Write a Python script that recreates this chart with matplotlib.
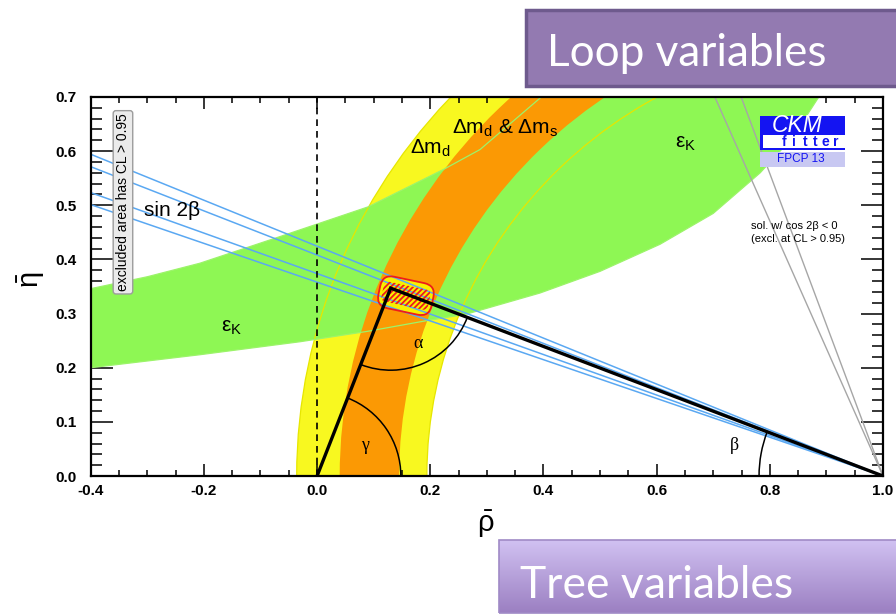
import numpy as np
import matplotlib
matplotlib.use("Agg")
import matplotlib.pyplot as plt
import matplotlib.patches as patches
from matplotlib.ticker import MultipleLocator
from matplotlib.transforms import Affine2D, ScaledTranslation

plt.rcParams['font.family'] = ['Liberation Sans', 'DejaVu Sans']
plt.rcParams['mathtext.fontset'] = 'custom'
plt.rcParams['mathtext.rm'] = 'Liberation Sans'
plt.rcParams['mathtext.it'] = 'Liberation Sans:italic'
plt.rcParams['mathtext.bf'] = 'Liberation Sans:bold'
plt.rcParams['hatch.linewidth'] = 1.3

# apex of the unitarity triangle (rho-bar, eta-bar)
apex_rho, apex_eta = 0.130, 0.347

# sin 2beta: band edges as angles beta (deg) seen from (1, 0)
sin2b_beta = [19.7, 20.5, 22.2, 23.0]
# the cos 2beta < 0 solution (outer edges only)
mirror_beta = [19.7, 23.0]

# Delta m_d and Delta m_d & Delta m_s: annuli around (1, 0), inner/outer radius
dmd_radii = [0.806, 1.036]
dms_radii = [0.855, 0.960]

# eps_K band edges
epsk_low_rho = [-0.40, -0.207, -0.03, 0.088, 0.194, 0.264, 0.394, 0.500, 0.606, 0.700, 0.783, 0.840, 0.889]
epsk_low_eta = [0.200, 0.224, 0.248, 0.267, 0.287, 0.299, 0.338, 0.378, 0.428, 0.485, 0.560, 0.625, 0.704]
epsk_up_rho = [-0.40, -0.300, -0.207, -0.066, 0.090, 0.223, 0.288, 0.394]
epsk_up_eta = [0.346, 0.368, 0.393, 0.442, 0.497, 0.566, 0.603, 0.698]

# global fit region: centre, (width, height, corner radius) in rho units, tilt
fit_center = (0.157, 0.333)
fit_outer = (0.096, 0.057, 0.021)
fit_inner = (0.084, 0.036, 0.009)
fit_tilt = -12

# angle arcs radius (rho units)
arc_alpha, arc_gamma, arc_beta = 0.145, 0.148, 0.219

xticks = [-0.4, -0.2, 0.0, 0.2, 0.4, 0.6, 0.8, 1.0]
yticks = [0.0, 0.1, 0.2, 0.3, 0.4, 0.5, 0.6, 0.7]

YELLOW = '#f8f820'
GREEN = '#8ef754'
ORANGE = '#fb9904'
BLUE = '#5aa8f2'
GREY = '#a6a6a6'
RED = '#ee1c1c'

W, H = 896, 615
fig = plt.figure(figsize=(W / 100, H / 100), dpi=100)
ax = fig.add_axes([90.7 / W, 1 - 476 / H, 792.3 / W, 379 / H])
ax.set_xlim(-0.4, 1.0)
ax.set_ylim(0.0, 0.7)

# pixels per unit along each axis, used to keep arcs round on screen
p0 = ax.transData.transform((0, 0))
p1 = ax.transData.transform((1, 1))
sx, sy = p1[0] - p0[0], p1[1] - p0[1]

# Delta m_d (yellow)
ax.add_patch(patches.Wedge((1, 0), dmd_radii[1], 0, 180, width=dmd_radii[1] - dmd_radii[0],
                           facecolor=YELLOW, edgecolor='none', zorder=1))

# eps_K (green)
poly_rho = epsk_low_rho + epsk_up_rho[::-1]
poly_eta = epsk_low_eta + epsk_up_eta[::-1]
ax.fill(poly_rho, poly_eta, color=GREEN, lw=0, zorder=2)

# Delta m_d contours stay visible through eps_K
for r in dmd_radii:
    ax.add_patch(patches.Arc((1, 0), 2 * r, 2 * r, theta1=0, theta2=180,
                             color='#e6e600', lw=0.9, zorder=3))

# Delta m_d & Delta m_s (orange)
ax.add_patch(patches.Wedge((1, 0), dms_radii[1], 0, 180, width=dms_radii[1] - dms_radii[0],
                           facecolor=ORANGE, edgecolor='none', zorder=4))
ax.plot(epsk_low_rho, epsk_low_eta, color='#9cf46a', lw=0.9, zorder=5)
ax.plot(epsk_up_rho, epsk_up_eta, color='#9cf46a', lw=0.9, zorder=5)

# global fit region
fit_pos = ScaledTranslation(fit_center[0], fit_center[1], ax.transData)
def fit_box(size, **kw):
    w, h, r = size[0] * sx, size[1] * sx, size[2] * sx
    box = patches.FancyBboxPatch((-w / 2, -h / 2), w, h,
                                 boxstyle=f'round,pad=0,rounding_size={r}', **kw)
    box.set_transform(Affine2D().rotate_deg(fit_tilt) + fit_pos)
    ax.add_patch(box)
    return box

fit_box(fit_outer, facecolor='#f8f000', edgecolor='none', zorder=6)

# sin 2beta lines and the cos 2beta < 0 solution
rho_line = np.array([-0.4, 1.0])
for b in sin2b_beta:
    ax.plot(rho_line, np.tan(np.radians(b)) * (1 - rho_line), color=BLUE, lw=1.1, zorder=7)
rho_m = np.array([0.6, 1.0])
for b in mirror_beta:
    ax.plot(rho_m, np.tan(np.radians(90 - b)) * (1 - rho_m), color=GREY, lw=1.0, zorder=7)

fit_box(fit_inner, facecolor='none', edgecolor=RED, lw=0, hatch='//////', zorder=8)
fit_box(fit_outer, facecolor='none', edgecolor=RED, lw=1.3, zorder=8)

# rho = 0
ax.plot([0, 0], [0, 0.7], color='black', lw=1.2, ls=(0, (4, 3)), zorder=9)

# unitarity triangle
ax.plot([0, apex_rho, 1], [0, apex_eta, 0], color='black', lw=2.4,
        solid_joinstyle='miter', zorder=10)

# angle arcs
to_origin = np.degrees(np.arctan2(-apex_eta, -apex_rho))
to_one = np.degrees(np.arctan2(-apex_eta, 1 - apex_rho))
ax.add_patch(patches.Arc((apex_rho, apex_eta), 2 * arc_alpha, 2 * arc_alpha * sx / sy,
                         theta1=to_origin % 360, theta2=to_one % 360, color='black', lw=1.1, zorder=10))
ax.add_patch(patches.Arc((0, 0), 2 * arc_gamma, 2 * arc_gamma * sx / sy,
                         theta1=0, theta2=np.degrees(np.arctan2(apex_eta, apex_rho)),
                         color='black', lw=1.1, zorder=10))
ax.add_patch(patches.Arc((1, 0), 2 * arc_beta, 2 * arc_beta * sx / sy,
                         theta1=np.degrees(np.arctan2(apex_eta, apex_rho - 1)), theta2=180,
                         color='black', lw=1.1, zorder=10))

serif = ['Liberation Serif', 'DejaVu Serif']
ax.text(0.179, 0.244, 'α', family=serif, fontsize=13, ha='center', va='center', zorder=11)
ax.text(0.085, 0.057, 'γ', family=serif, fontsize=13, ha='center', va='center', zorder=11)
ax.text(0.738, 0.057, 'β', family=serif, fontsize=13, ha='center', va='center', zorder=11)

# constraint labels
ax.text(-0.306, 0.490, 'sin 2β', fontsize=15, ha='left', va='center', zorder=11)
ax.text(-0.170, 0.274, 'ε$_\\mathregular{K}$', fontsize=15, ha='left', va='center', zorder=11)
ax.text(0.632, 0.614, 'ε$_\\mathregular{K}$', fontsize=15, ha='left', va='center', zorder=11)
ax.text(0.164, 0.606, 'Δm$_\\mathregular{d}$', fontsize=15, ha='left', va='center', zorder=11)
ax.text(0.238, 0.643, 'Δm$_\\mathregular{d}$ & Δm$_\\mathregular{s}$', fontsize=15,
        ha='left', va='center', zorder=11)
ax.text(0.766, 0.462, 'sol. w/ cos 2β < 0', fontsize=8, ha='left', va='center', zorder=11)
ax.text(0.766, 0.438, '(excl. at CL > 0.95)', fontsize=8, ha='left', va='center', zorder=11)
ax.text(-0.343, 0.5055, 'excluded area has CL > 0.95', rotation=90, fontsize=10,
        ha='center', va='center', zorder=11,
        bbox=dict(boxstyle='round,pad=0.2,rounding_size=0.2', fc='#ebebeb', ec='#9c9c9c', lw=1))

# axes styling
ax.set_xticks(xticks, labels=[f'{v:.1f}' for v in xticks], fontweight='bold', fontsize=11)
ax.set_yticks(yticks, labels=[f'{v:.1f}' for v in yticks], fontweight='bold', fontsize=11)
ax.xaxis.set_minor_locator(MultipleLocator(0.05))
ax.yaxis.set_minor_locator(MultipleLocator(0.02))
ax.tick_params(axis='x', which='major', direction='in', length=8.5, width=1.1, top=True, pad=6)
ax.tick_params(axis='x', which='minor', direction='in', length=4.3, width=1.1, top=True)
ax.tick_params(axis='y', which='major', direction='in', length=16, width=1.1, right=True, pad=10)
ax.tick_params(axis='y', which='minor', direction='in', length=8, width=1.1, right=True)
for s in ax.spines.values():
    s.set_linewidth(1.6)
    s.set_zorder(12)

fig.text(486 / W, 1 - 524 / H, r'$\bar{\mathrm{\rho}}$', fontsize=21, ha='center', va='center')
fig.text(31 / W, 1 - 280 / H, r'$\bar{\mathrm{\eta}}$', fontsize=21, ha='center', va='center',
         rotation=90)

def fig_rect(x0, y0, x1, y1, **kw):
    r = patches.Rectangle((x0 / W, 1 - y1 / H), (x1 - x0) / W, (y1 - y0) / H,
                          transform=fig.transFigure, **kw)
    fig.add_artist(r)
    return r

# CKMfitter logo
LOGO_BLUE = '#1414f2'
fig_rect(760, 116, 845, 150, facecolor=LOGO_BLUE, edgecolor='none')
fig_rect(763, 135, 845, 148, facecolor='white', edgecolor='none')
fig_rect(760, 151.5, 845, 166.5, facecolor='#c8c8f2', edgecolor='none')
fig.text(797.5 / W, 1 - 125.5 / H, 'CKM', color='white', fontsize=16.5, style='italic',
         ha='center', va='center')
for i, ch in enumerate('fitter'):
    fig.text((784 + 10.4 * i) / W, 1 - 142.5 / H, ch, color=LOGO_BLUE, fontsize=10,
             fontweight='bold', ha='center', va='center')
fig.text(800.5 / W, 1 - 159.3 / H, 'FPCP 13', color=LOGO_BLUE, fontsize=8.5,
         ha='center', va='center')

# slide labels
fig_rect(525.5, 9.5, 900, 86, facecolor='#937ab1', edgecolor='#6e5a8d', lw=2.5)
fig.text(547 / W, 1 - 66 / H, 'Loop variables', color='white', fontsize=31.8,
         family=['Lato', 'DejaVu Sans'], ha='left', va='baseline')

grad = fig.add_axes([498.5 / W, 2 / H, (W - 498.5) / W, (613 - 539.5) / H])
grad.set_axis_off()
g = np.linspace(0, 1, 64)[:, None]
top_c = np.array([0.82, 0.76, 0.95])
bot_c = np.array([0.61, 0.50, 0.76])
grad.imshow(top_c + (bot_c - top_c) * g[:, :, None], aspect='auto', extent=(0, 1, 0, 1))
fig_rect(498.5, 539.5, 900, 613, facecolor='none', edgecolor='#a08ac6', lw=1.2)
fig.text(520 / W, 1 - 598 / H, 'Tree variables', color='white', fontsize=32,
         family=['Lato', 'DejaVu Sans'], ha='left', va='baseline')

fig.savefig('out.png', dpi=100)
